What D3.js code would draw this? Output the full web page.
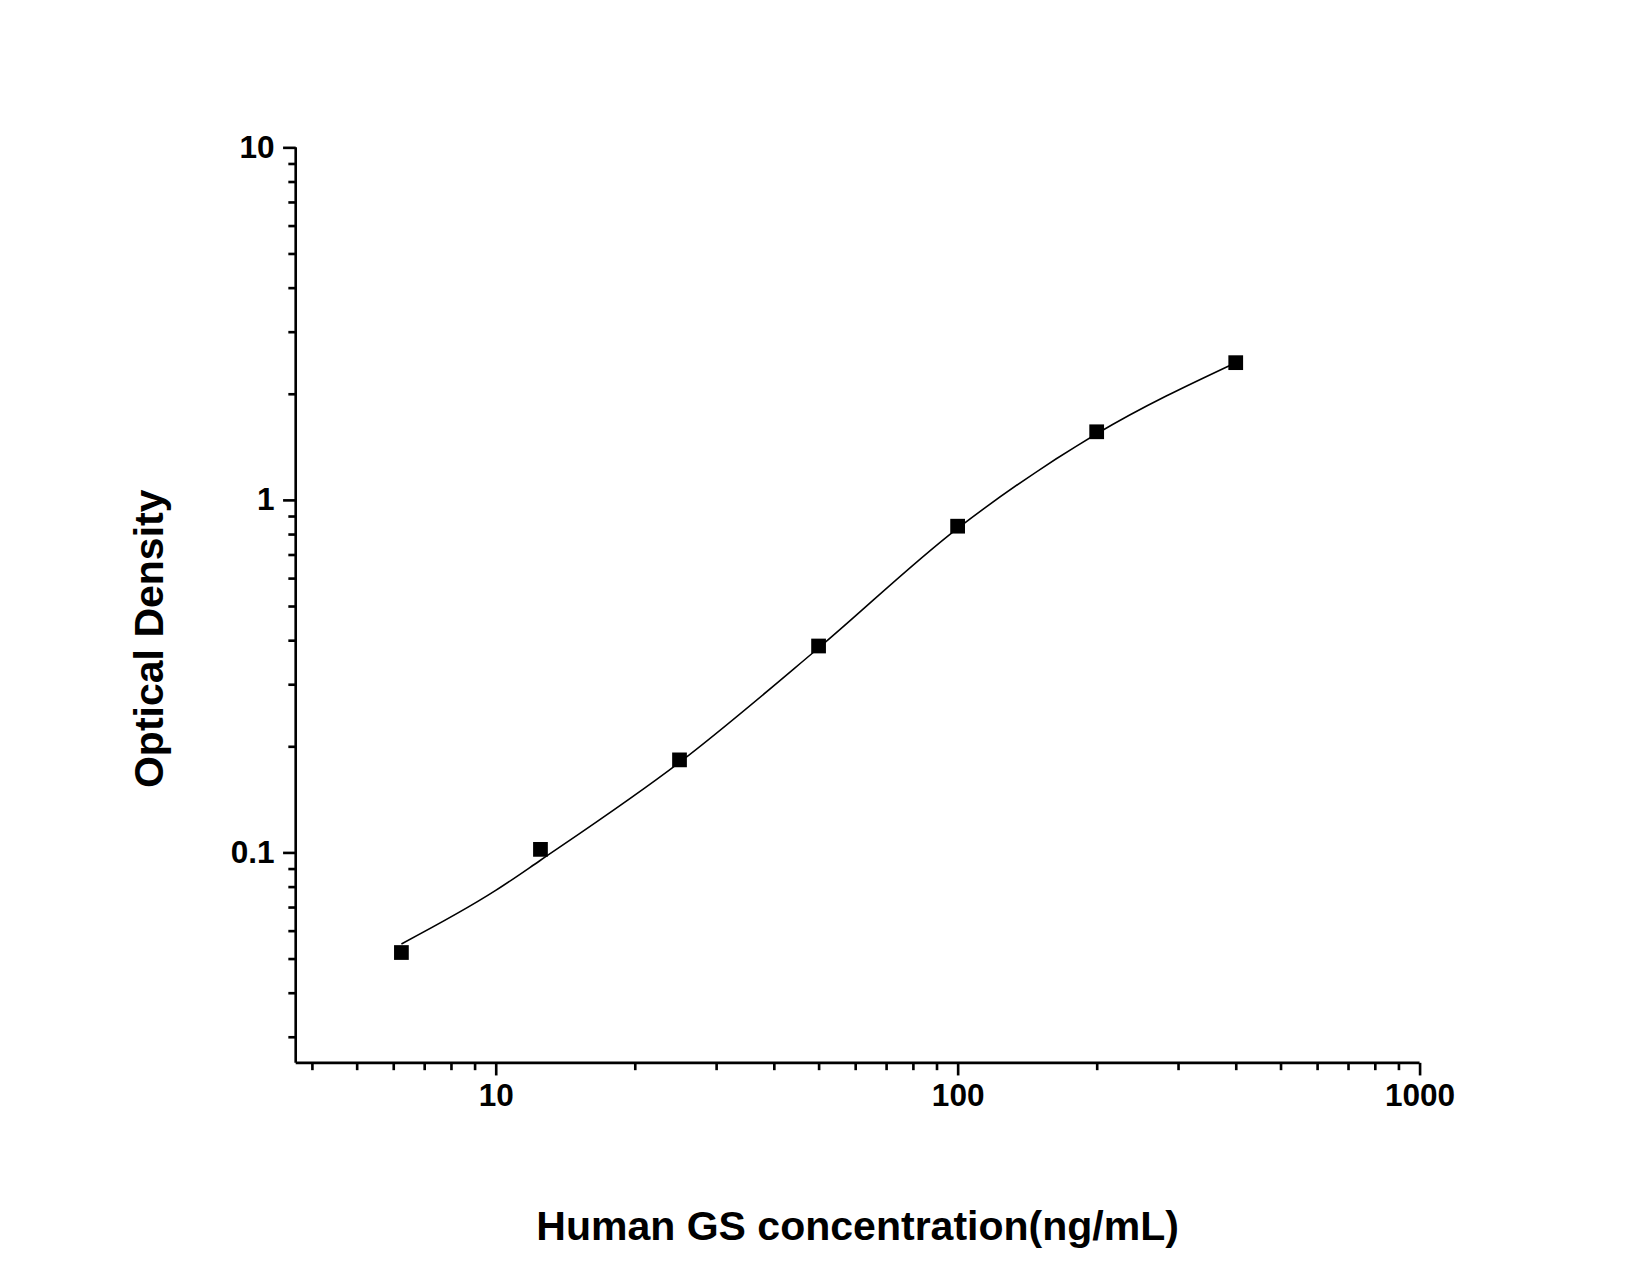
<!DOCTYPE html>
<html><head><meta charset="utf-8">
<script src="https://cdn.jsdelivr.net/npm/d3@7"></script>
<style>body{margin:0;background:#fff}text{font-family:"Liberation Sans",Arial,sans-serif;font-weight:bold}</style>
</head><body><svg id="c" width="1650" height="1275"></svg>
<script>
var concentrations = [6.25, 12.5, 25, 50, 100, 200, 400];
var densities = [0.052, 0.102, 0.183, 0.385, 0.842, 1.56, 2.45];
var curveX = [6.25, 10, 12.5, 25, 50, 100, 200, 400];
var curveY = [0.055, 0.078, 0.095, 0.18, 0.38, 0.83, 1.54, 2.45];
var xMajor = [10, 100, 1000];
var yMajor = [0.1, 1, 10];

var svg = d3.select("#c").append("g").attr("transform", "scale(1.0523)");
var x = d3.scaleLog().domain([3.69, 1000]).range([281, 1349]);
var y = d3.scaleLog().domain([0.0253, 10]).range([1010, 140]);

var xMinor = [], yMinor = [];
[1, 10, 100].forEach(function(b){ for (var i = 2; i < 10; i++) if (b*i >= 4) xMinor.push(b*i); });
[0.01, 0.1, 1].forEach(function(b){ for (var i = 2; i < 10; i++) if (b*i >= 0.03) yMinor.push(+(b*i).toPrecision(2)); });

var xAxis = d3.axisBottom(x).tickValues(xMajor).tickFormat(d3.format("d")).tickSize(12).tickPadding(8);
var xAxisMinor = d3.axisBottom(x).tickValues(xMinor).tickFormat("").tickSize(7);
var yAxis = d3.axisLeft(y).tickValues(yMajor).tickFormat(function(d){ return d; }).tickSize(12).tickPadding(8);
var yAxisMinor = d3.axisLeft(y).tickValues(yMinor).tickFormat("").tickSize(7);

function style(g){
    g.selectAll("path,line").attr("stroke", "#000").attr("stroke-width", 2.5);
    g.selectAll("text").style("font-size", "30px").attr("fill", "#000");
}
svg.append("g").attr("transform", "translate(0,1010)").call(xAxisMinor).call(style);
svg.append("g").attr("transform", "translate(0,1010)").call(xAxis).call(style);
svg.append("g").attr("transform", "translate(281,0)").call(yAxisMinor).call(style);
svg.append("g").attr("transform", "translate(281,0)").call(yAxis).call(style);
svg.selectAll(".domain").attr("d", null);
svg.append("line").attr("x1", 281).attr("x2", 1349).attr("y1", 1010).attr("y2", 1010).attr("stroke", "#000").attr("stroke-width", 2.5);
svg.append("line").attr("x1", 281).attr("x2", 281).attr("y1", 140).attr("y2", 1010).attr("stroke", "#000").attr("stroke-width", 2.5);

var line = d3.line()
    .x(function(d){ return x(d[0]); })
    .y(function(d){ return y(d[1]); })
    .curve(d3.curveMonotoneX);
svg.append("path").datum(d3.zip(curveX, curveY)).attr("d", line)
    .attr("fill", "none").attr("stroke", "#000").attr("stroke-width", 1.5);

svg.selectAll(".pt").data(d3.zip(concentrations, densities)).enter().append("rect")
    .attr("x", function(d){ return x(d[0]) - 7; })
    .attr("y", function(d){ return y(d[1]) - 7; })
    .attr("width", 14).attr("height", 14).attr("fill", "#000");

svg.append("text").attr("x", 815).attr("y", 1178).attr("text-anchor", "middle")
    .style("font-size", "39px").text("Human GS concentration(ng/mL)");
svg.append("text").attr("transform", "translate(155,607) rotate(-90)").attr("text-anchor", "middle")
    .style("font-size", "39px").text("Optical Density");
</script></body></html>
